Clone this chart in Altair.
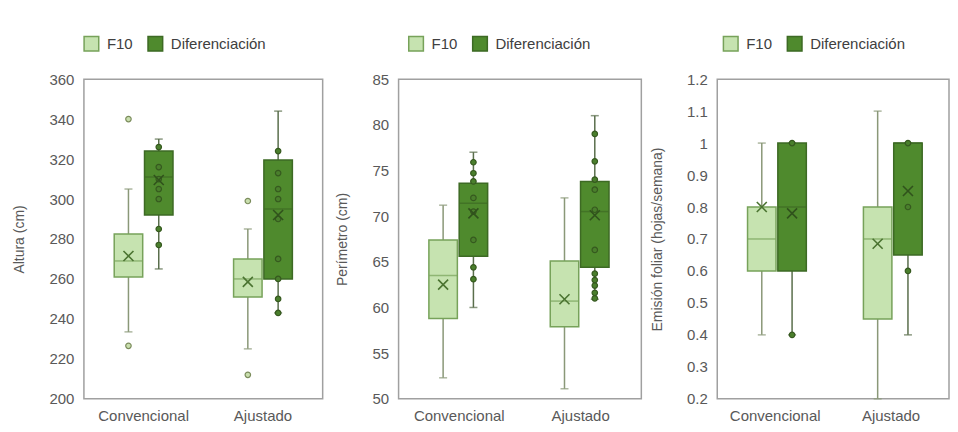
import altair as alt
import pandas as pd

categories = ["Convencional", "Ajustado"]
series = ["F10", "Diferenciación"]

# group order: (Convencional, F10), (Convencional, Diferenciación), (Ajustado, F10), (Ajustado, Diferenciación)
group_cat = ["Convencional", "Convencional", "Ajustado", "Ajustado"]
group_ser = ["F10", "Diferenciación", "F10", "Diferenciación"]

# Panel 1: Altura (cm)
altura_lo = [233.5, 265, 225, 243]
altura_q1 = [261, 292, 251, 260]
altura_med = [269, 311, 260, 295]
altura_q3 = [282.5, 324, 270, 319.5]
altura_hi = [305, 330, 285, 344]
altura_mean = [271.5, 309.5, 258.5, 292]
altura_pts = [[340, 226.5], [326, 316, 310, 305, 300, 285, 277], [299, 212],
              [324, 313, 305, 300, 290, 270, 260, 250, 243]]
altura_ticks = [200, 220, 240, 260, 280, 300, 320, 340, 360]

# Panel 2: Perímetro (cm)
perim_lo = [52.3, 60.0, 51.1, 60.9]
perim_q1 = [58.8, 65.6, 57.9, 64.4]
perim_med = [63.5, 71.4, 60.7, 70.5]
perim_q3 = [67.4, 73.6, 65.1, 73.8]
perim_hi = [71.2, 77.0, 72.0, 81.0]
perim_mean = [62.5, 70.3, 60.9, 70.1]
perim_pts = [[], [75.9, 74.7, 73.8, 72.0, 70.5, 67.4, 64.4, 63.1], [],
             [79.0, 76.0, 74.0, 72.9, 70.7, 66.3, 63.7, 63.0, 62.4, 61.6, 61.0]]
perim_ticks = [50, 55, 60, 65, 70, 75, 80, 85]

# Panel 3: Emisión foliar (hojas/semana)
emis_lo = [0.4, 0.4, 0.2, 0.4]
emis_q1 = [0.6, 0.6, 0.45, 0.65]
emis_med = [0.7, 0.8, 0.7, 1.0]
emis_q3 = [0.8, 1.0, 0.8, 1.0]
emis_hi = [1.0, 1.0, 1.1, 1.0]
emis_mean = [0.8, 0.78, 0.685, 0.85]
emis_pts = [[], [1.0, 0.4], [], [1.0, 0.8, 0.6]]
emis_ticks = [0.2, 0.3, 0.4, 0.5, 0.6, 0.7, 0.8, 0.9, 1.0, 1.1, 1.2]

FILL = ["#c6e3b0", "#4f8a2d"]
STROKE = ["#77a25a", "#3d6a24"]
WHISK_F10 = "#8a9878"
WHISK_DIF = "#5a6e4c"
TEXT = "#595959"
FONT = "Liberation Sans"

is_f10 = alt.datum.ser == "F10"


def panel(lo, q1, med, q3, hi, mean, pts, ticks, fmt, title, width, legend_x):
    box = pd.DataFrame({"cat": group_cat, "ser": group_ser, "lo": lo, "q1": q1,
                        "med": med, "q3": q3, "hi": hi, "mean": mean})
    rows = []
    for c, s, vals in zip(group_cat, group_ser, pts):
        for v in vals:
            rows.append({"cat": c, "ser": s, "val": v})
    pdf = pd.DataFrame(rows, columns=["cat", "ser", "val"])

    x = alt.X("cat:N", sort=categories, title=None,
              scale=alt.Scale(paddingInner=0, paddingOuter=0),
              axis=alt.Axis(labelAngle=0, ticks=False, domain=False, labelPadding=10,
                            labelFontSize=15, labelColor=TEXT, labelFont=FONT))
    xo = alt.XOffset("ser:N", sort=series,
                     scale=alt.Scale(paddingInner=0.06, paddingOuter=1.0))
    yscale = alt.Scale(domain=[ticks[0], ticks[-1]], nice=False, zero=False)
    yaxis = alt.Axis(values=ticks, format=fmt, grid=False, ticks=False, domain=False,
                     labelOverlap=False, labelFlush=False,
                     labelPadding=10, labelFontSize=15, labelColor=TEXT, labelFont=FONT,
                     title=title, titleFontSize=14, titleFontWeight="normal",
                     titleColor=TEXT, titleFont=FONT, titlePadding=22)
    leg = alt.Legend(orient="none", legendX=legend_x, legendY=-44, direction="horizontal",
                     title=None, symbolType="square", symbolSize=215, symbolStrokeWidth=1.5,
                     labelFontSize=15, labelColor="#404040", labelFont=FONT,
                     labelOffset=7, columnPadding=12, padding=0)

    base = alt.Chart(box)
    whisk_color = alt.condition(is_f10, alt.value(WHISK_F10), alt.value(WHISK_DIF))
    whisk = base.mark_rule(strokeWidth=1.5).encode(
        x=x, xOffset=xo, y=alt.Y("lo:Q", scale=yscale, axis=yaxis), y2="hi:Q",
        color=whisk_color)
    cap_lo = base.mark_tick(size=8, thickness=1.5).encode(
        x=x, xOffset=xo, y=alt.Y("lo:Q", scale=yscale, axis=yaxis), color=whisk_color)
    cap_hi = base.mark_tick(size=8, thickness=1.5).encode(
        x=x, xOffset=xo, y=alt.Y("hi:Q", scale=yscale, axis=yaxis), color=whisk_color)
    bars = base.mark_bar(strokeWidth=1.5).encode(
        x=x, xOffset=xo, y=alt.Y("q1:Q", scale=yscale, axis=yaxis), y2="q3:Q",
        fill=alt.Fill("ser:N", sort=series, scale=alt.Scale(domain=series, range=FILL), legend=leg),
        stroke=alt.Stroke("ser:N", sort=series, scale=alt.Scale(domain=series, range=STROKE), legend=leg))
    medl = base.mark_tick(size=28, thickness=1.5).encode(
        x=x, xOffset=xo, y=alt.Y("med:Q", scale=yscale, axis=yaxis),
        color=alt.condition(is_f10, alt.value(STROKE[0]), alt.value(STROKE[1])))
    points = alt.Chart(pdf).mark_point(shape="circle", filled=True, size=30, strokeWidth=1.2, opacity=1).encode(
        x=x, xOffset=xo, y=alt.Y("val:Q", scale=yscale, axis=yaxis),
        fill=alt.condition(is_f10, alt.value("#c9dfae"), alt.value("#4a7f2c")),
        stroke=alt.condition(is_f10, alt.value("#7b8c5c"), alt.value("#36591f")))
    means = base.mark_point(shape="M-1,-1L1,1M-1,1L1,-1", filled=False, size=100,
                            strokeWidth=1.6, opacity=1).encode(
        x=x, xOffset=xo, y=alt.Y("mean:Q", scale=yscale, axis=yaxis),
        stroke=alt.condition(is_f10, alt.value("#4b7431"), alt.value("#30521c")))
    return alt.layer(whisk, cap_lo, cap_hi, bars, medl, points, means).properties(
        width=width, height=320)


p1 = panel(altura_lo, altura_q1, altura_med, altura_q3, altura_hi, altura_mean, altura_pts,
           altura_ticks, "d", "Altura (cm)", 239, -1)
p2 = panel(perim_lo, perim_q1, perim_med, perim_q3, perim_hi, perim_mean, perim_pts,
           perim_ticks, "d", "Perímetro (cm)", 243, 9)
p3 = panel(emis_lo, emis_q1, emis_med, emis_q3, emis_hi, emis_mean, emis_pts,
           emis_ticks, ".1~f", "Emisión foliar (hojas/semana)", 232, 5)

chart = alt.hconcat(p1, p2, p3, spacing=76, bounds="flush").resolve_legend(
    fill="independent", stroke="independent"
).resolve_scale(y="independent").properties(
    padding={"top": 26, "left": 4, "right": 0, "bottom": 0},
    background="white",
).configure_view(stroke="#a0a0a0", strokeWidth=1.5)

chart.save("out.html", embed_options={"renderer": "svg", "actions": False})
